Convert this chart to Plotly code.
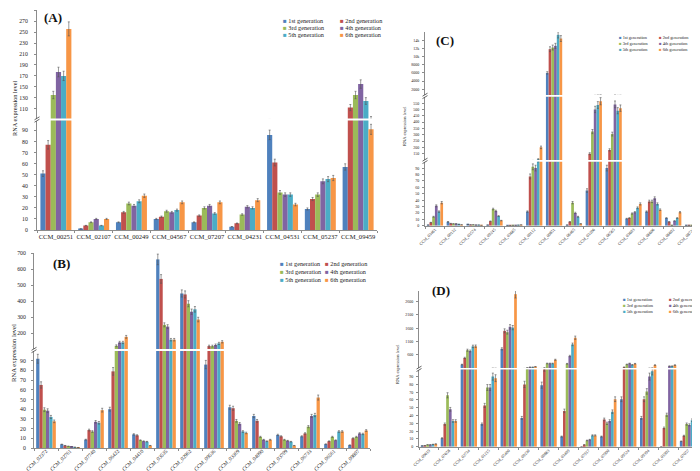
import plotly.graph_objects as go

W, H = 700, 471
def X(px): return px / W
def Y(py): return 1 - py / H

SERIES = ["1st generation", "2nd generation", "3rd generation",
          "4th generation", "5th generation", "6th generation"]
COLORS = ["#4F81BD", "#C0504D", "#9BBB59", "#8064A2", "#4BACC6", "#F79646"]

# ---------------- Panel A ----------------
a_genes = ["CCM_00251", "CCM_02107", "CCM_00249", "CCM_04567", "CCM_07207",
           "CCM_04231", "CCM_04531", "CCM_05237", "CCM_09459"]
a_values = [
    [51, 1, 7, 10, 7, 3, 86, 19, 57],
    [77, 4, 16, 12, 13, 6, 61, 28, 112],
    [135, 7, 24, 17, 20, 14, 34, 32, 135],
    [177, 10, 22, 16, 22, 21, 32, 44, 155],
    [170, 4, 26, 18, 15, 20, 32, 46, 124],
    [256, 10, 31, 25, 25, 27, 23, 47, 91],
]
# ---------------- Panel B ----------------
b_genes = ["CCM_02372", "CCM_02761", "CCM_07740", "CCM_06422", "CCM_04410",
           "CCM_03535", "CCM_02962", "CCM_09536", "CCM_03369", "CCM_04090",
           "CCM_03709", "CCM_06733", "CCM_06561", "CCM_09807"]
b_values = [
    [92, 3.8, 8.6, 40, 14, 660, 447, 86, 42, 33, 13.5, 12, 4, 3],
    [65, 2.5, 18.5, 79, 13, 538, 441, 118, 41, 28, 12, 15, 7, 10],
    [39.5, 1.8, 17, 120, 8, 251, 383, 118, 28, 11.5, 8.5, 22, 11.5, 11.5],
    [38.5, 1.2, 27, 141, 7, 240, 333, 125, 25, 8.5, 7.5, 33, 8, 15],
    [32, 0.8, 26, 141, 6.5, 158, 348, 135, 17, 7, 6.5, 34, 17, 14.5],
    [27.5, 0.5, 39, 176, 2.5, 158, 284, 145, 15.5, 8.5, 2.5, 52, 17, 18],
]
# ---------------- Panel C ----------------
c_genes = ["CCM_03461", "CCM_00132", "CCM_03574", "CCM_09245", "CCM_03665",
           "CCM_00112", "CCM_00851", "CCM_06465", "CCM_03206", "CCM_06565",
           "CCM_03603", "CCM_06606", "CCM_06602", "CCM_08724"]
c_values = [
    [1, 6, 2, 1, 0.3, 22, 6000, 1, 55, 90, 11, 22, 12, 0.5],
    [5, 3.5, 1.5, 7, 0.3, 77, 11800, 6, 150, 180, 12, 38, 6, 0.5],
    [14, 3, 1.5, 26, 0.5, 92, 12200, 36, 325, 305, 19, 38, 0.5, 0.5],
    [31, 3, 1, 23, 0.5, 90, 12600, 20, 500, 540, 21, 43, 7.5, 1],
    [22, 2, 1, 15, 0.8, 105, 15300, 14, 535, 490, 28, 34, 12, 1],
    [36, 1.5, 0.5, 8, 1.2, 200, 14400, 3, 565, 510, 34, 25, 21, 1.5],
]
# ---------------- Panel D ----------------
d_genes = ["CCM_09619", "CCM_07658", "CCM_02734", "CCM_01215", "CCM_05400",
           "CCM_09230", "CCM_00863", "CCM_03409", "CCM_07917", "CCM_07900",
           "CCM_09524", "CCM_09394", "CCM_01902", "CCM_07057"]
d_values = [
    [1, 11, 230, 29, 820, 37, 79, 13, 0, 13, 61, 37, 0, 7],
    [1.5, 29, 480, 53, 1500, 80, 102, 46, 2.5, 35, 130, 61, 24, 14],
    [2.5, 66, 770, 76, 1450, 105, 270, 260, 8, 30, 235, 71, 41, 29],
    [2.5, 48, 740, 76, 1650, 130, 270, 550, 9, 33, 270, 90, 170, 28],
    [3, 33, 915, 90, 1620, 130, 270, 990, 14.5, 45, 220, 97, 170, 34],
    [3.5, 33, 920, 88, 2880, 150, 410, 1240, 14.5, 61, 260, 210, 210, 30],
]

lower_ticks = [0, 10, 20, 30, 40, 50, 60, 70, 80, 90]
a_upper_ticks = [110, 130, 150, 170, 190, 210, 230, 250, 270, 290]
b_upper_ticks = [200, 300, 400, 500, 600, 700]
c_mid_ticks = [150, 200, 250, 300, 350, 400, 450, 500, 550]
c_upper_ticks = [2000, 4000, 6000, 8000, 10000, 12000, 14000]
d_upper_ticks = [600, 1100, 1600, 2100, 2600]

FONT = "Liberation Serif"
AXCOL = "#8c8c8c"

fig = go.Figure()
layout = dict(width=W, height=H, margin=dict(l=0, r=0, t=0, b=0),
              paper_bgcolor="white", plot_bgcolor="white",
              barmode="group", bargap=0.18, bargroupgap=0,
              showlegend=False, font=dict(family=FONT, color="#222"))
annotations = []
shapes = []

panels = [
    dict(genes=a_genes, values=a_values, xa="x", xpx=(29, 369), xfont=6.6, xangle=0,
         xstand=0, yfont=5.8, ystand=5,
         segs=[("y", 222, 112.5, [0, 99], lower_ticks),
               ("y2", 110.5, 2.3, [92, 290], a_upper_ticks)]),
    dict(genes=b_genes, values=b_values, xa="x2", xpx=(26, 362), xfont=5.3, xangle=-45,
         xstand=-3, yfont=5.8, ystand=4,
         segs=[("y3", 440, 343, [0, 100], lower_ticks),
               ("y4", 341, 245, [100, 700], b_upper_ticks)]),
    dict(genes=c_genes, values=c_values, xa="x3", xpx=(417, 695), xfont=4.2, xangle=-45,
         xstand=-1, yfont=4.0, ystand=2,
         segs=[("y5", 217.7, 153.7, [0, 100], lower_ticks),
               ("y6", 152, 88.8, [100, 600], c_mid_ticks),
               ("y7", 87, 24, [600, 16000], c_upper_ticks)]),
    dict(genes=d_genes, values=d_values, xa="x4", xpx=(411, 690), xfont=4.2, xangle=-45,
         xstand=-1, yfont=4.0, ystand=2,
         segs=[("y8", 438.7, 361.6, [0, 99], lower_ticks),
               ("y9", 360, 283, [100, 3000], d_upper_ticks)]),
]

for p in panels:
    xa = p["xa"]
    first_y = p["segs"][0][0]
    xkey = "xaxis" + xa[1:]
    layout[xkey] = dict(domain=[X(p["xpx"][0]), X(p["xpx"][1])], anchor=first_y,
                        type="category", showline=True, linecolor=AXCOL, linewidth=1,
                        ticks="outside", tickson="boundaries", ticklen=2, tickcolor=AXCOL,
                        tickangle=p["xangle"], ticklabelstandoff=p["xstand"],
                        tickfont=dict(size=p["xfont"], family=FONT, color="#222"),
                        showgrid=False, zeroline=False, automargin=False,
                        range=[-0.5, len(p["genes"]) - 0.5])
    for (ya, pb, pt, rng, tv) in p["segs"]:
        ykey = "yaxis" + ya[1:]
        layout[ykey] = dict(domain=[Y(pb), Y(pt)], anchor=xa, range=rng,
                            tickvals=tv, showline=True, linecolor=AXCOL, linewidth=1,
                            ticks="outside", ticklen=2, tickcolor=AXCOL,
                            ticklabelstandoff=p["ystand"],
                            tickfont=dict(size=p["yfont"], family=FONT, color="#222"),
                            showgrid=False, zeroline=False, automargin=False)
        for i in range(6):
            fig.add_trace(go.Bar(
                x=p["genes"], y=p["values"][i], name=SERIES[i],
                marker=dict(color=COLORS[i], line=dict(width=0)),
                error_y=dict(type="percent", value=5, thickness=0.6, width=1,
                             color="#555"),
                xaxis=xa, yaxis=ya, showlegend=False))
    for k in range(len(p["segs"]) - 1):
        yb = (p["segs"][k][2] + p["segs"][k + 1][1]) / 2
        x0 = p["xpx"][0]
        for dy in (-1.2, 1.2):
            shapes.append(dict(type="line", xref="paper", yref="paper",
                               x0=X(x0 - 2.5), y0=Y(yb + 1.5 + dy),
                               x1=X(x0 + 2.5), y1=Y(yb - 1.5 + dy),
                               line=dict(color="#555", width=0.9)))

for txt, px, py in [("(A)", 34, 10), ("(B)", 43, 255), ("(C)", 426, 33), ("(D)", 422, 282)]:
    annotations.append(dict(text="<b>%s</b>" % txt, x=X(px), y=Y(py), xref="paper", yref="paper",
                            xanchor="left", yanchor="middle", showarrow=False,
                            font=dict(size=13, family=FONT, color="#111")))

for px, py, fs in [(7, 100, 6.3), (5, 345, 6.6), (397, 118, 4.5), (389, 356, 4.5)]:
    annotations.append(dict(text="RNA expression level", x=X(px), y=Y(py), xref="paper", yref="paper",
                            textangle=-90, showarrow=False, xanchor="center", yanchor="middle",
                            font=dict(size=fs, family=FONT, color="#222")))

legends = [(274, 331, (12.3, 19.7, 27), 6.2),
           (271, 316, (255, 263, 271), 6.2),
           (610, 650, (30, 36, 41.7), 4.3),
           (614, 660, (291.7, 297.7, 303.7), 4.5)]
for c1, c2, rows, fs in legends:
    for i in range(6):
        cx = c1 if i % 2 == 0 else c2
        ry = rows[i // 2]
        annotations.append(dict(
            text="<span style='color:%s'>■</span> %s" % (COLORS[i], SERIES[i]),
            x=X(cx), y=Y(ry), xref="paper", yref="paper", xanchor="left", yanchor="middle",
            showarrow=False, borderpad=0,
            font=dict(size=fs, family=FONT, color="#222")))

layout["annotations"] = annotations
layout["shapes"] = shapes
fig.update_layout(**layout)
fig.write_html("out.html")
